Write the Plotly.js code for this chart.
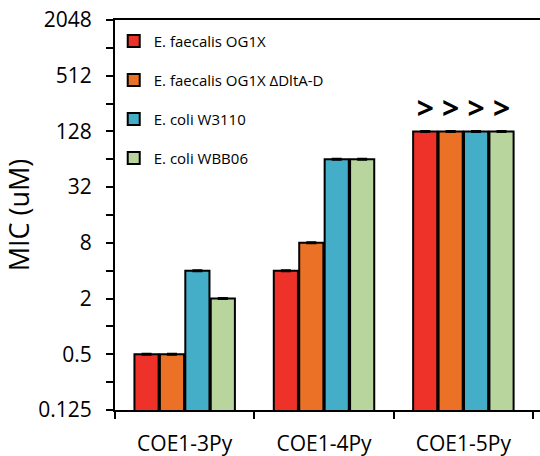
<!DOCTYPE html>
<html>
<head>
<meta charset="utf-8">
<script src="https://cdn.plot.ly/plotly-3.0.1.min.js"></script>
<style>html,body{margin:0;padding:0;background:#fff;}#chart{width:540px;height:456px;}</style>
</head>
<body>
<div id="chart"></div>
<script>
const categories = ["COE1-3Py", "COE1-4Py", "COE1-5Py"];
const seriesNames = ["E. faecalis OG1X", "E. faecalis OG1X \u0394DltA-D", "E. coli W3110", "E. coli WBB06"];
const faecalisOG1X = [0.5, 4, 128];
const faecalisDltAD = [0.5, 8, 128];
const coliW3110 = [4, 64, 128];
const coliWBB06 = [2, 64, 128];
const greaterThan = ["", "", ">"];
const errors = [0, 0, 0];
const tickValues = [0.125, 0.25, 0.5, 1, 2, 4, 8, 16, 32, 64, 128, 256, 512, 1024, 2048];
const tickLabels = ["0.125", "", "0.5", "", "2", "", "8", "", "32", "", "128", "", "512", "", "2048"];

const colors = ["#EE3229", "#EA7125", "#44ADC8", "#B9D59E"];
const values = [faecalisOG1X, faecalisDltAD, coliW3110, coliWBB06];
const font = "Open Sans, sans-serif";

const traces = values.map((v, i) => ({
  type: "bar",
  name: seriesNames[i],
  x: categories,
  y: v,
  legendgroup: "g" + i,
  marker: {color: colors[i], line: {color: "#000", width: 2}},
  error_y: {type: "data", array: errors, visible: true, color: "#000", thickness: 3, width: 5},
  text: greaterThan,
  textposition: "outside",
  textfont: {family: font, size: 30, color: "#000", weight: "bold"},
  cliponaxis: false,
  hoverinfo: "none"
}));

const layout = {
  width: 540, height: 456,
  margin: {l: 115, r: 0, t: 20, b: 46, autoexpand: false},
  paper_bgcolor: "#fff", plot_bgcolor: "#fff",
  barmode: "group",
  bargap: 0.27,
  bargroupgap: 0.05,
  showlegend: true,
  legend: {
    x: -0.003, y: 0.988, xanchor: "left", yanchor: "top",
    font: {family: font, size: 15, color: "#000"},
    traceorder: "grouped",
    tracegroupgap: 16.5,
    bgcolor: "rgba(0,0,0,0)"
  },
  xaxis: {
    type: "category",
    range: [-0.5, 2.55],
    automargin: false,
    tickangle: 0,
    showline: true, linecolor: "#000", linewidth: 2, mirror: true,
    ticks: "outside", tickson: "boundaries", ticklen: 7, tickwidth: 2, tickcolor: "#000",
    ticklabelstandoff: 14,
    tickfont: {family: font, size: 21, color: "#000"},
    showgrid: false, zeroline: false, fixedrange: true
  },
  yaxis: {
    type: "log",
    automargin: false,
    range: [Math.log10(0.125), Math.log10(2048)],
    tickmode: "array", tickvals: tickValues, ticktext: tickLabels,
    showline: true, linecolor: "#000", linewidth: 2,
    ticks: "outside", ticklen: 7, tickwidth: 2, tickcolor: "#000",
    ticklabelstandoff: 10,
    tickfont: {family: font, size: 21, color: "#000"},
    showgrid: false, zeroline: false, fixedrange: true,
    title: {text: "MIC (uM)", font: {family: font, size: 27, color: "#000"}, standoff: 4}
  }
};

Plotly.newPlot("chart", traces, layout, {staticPlot: true, displayModeBar: false});
</script>
</body>
</html>
